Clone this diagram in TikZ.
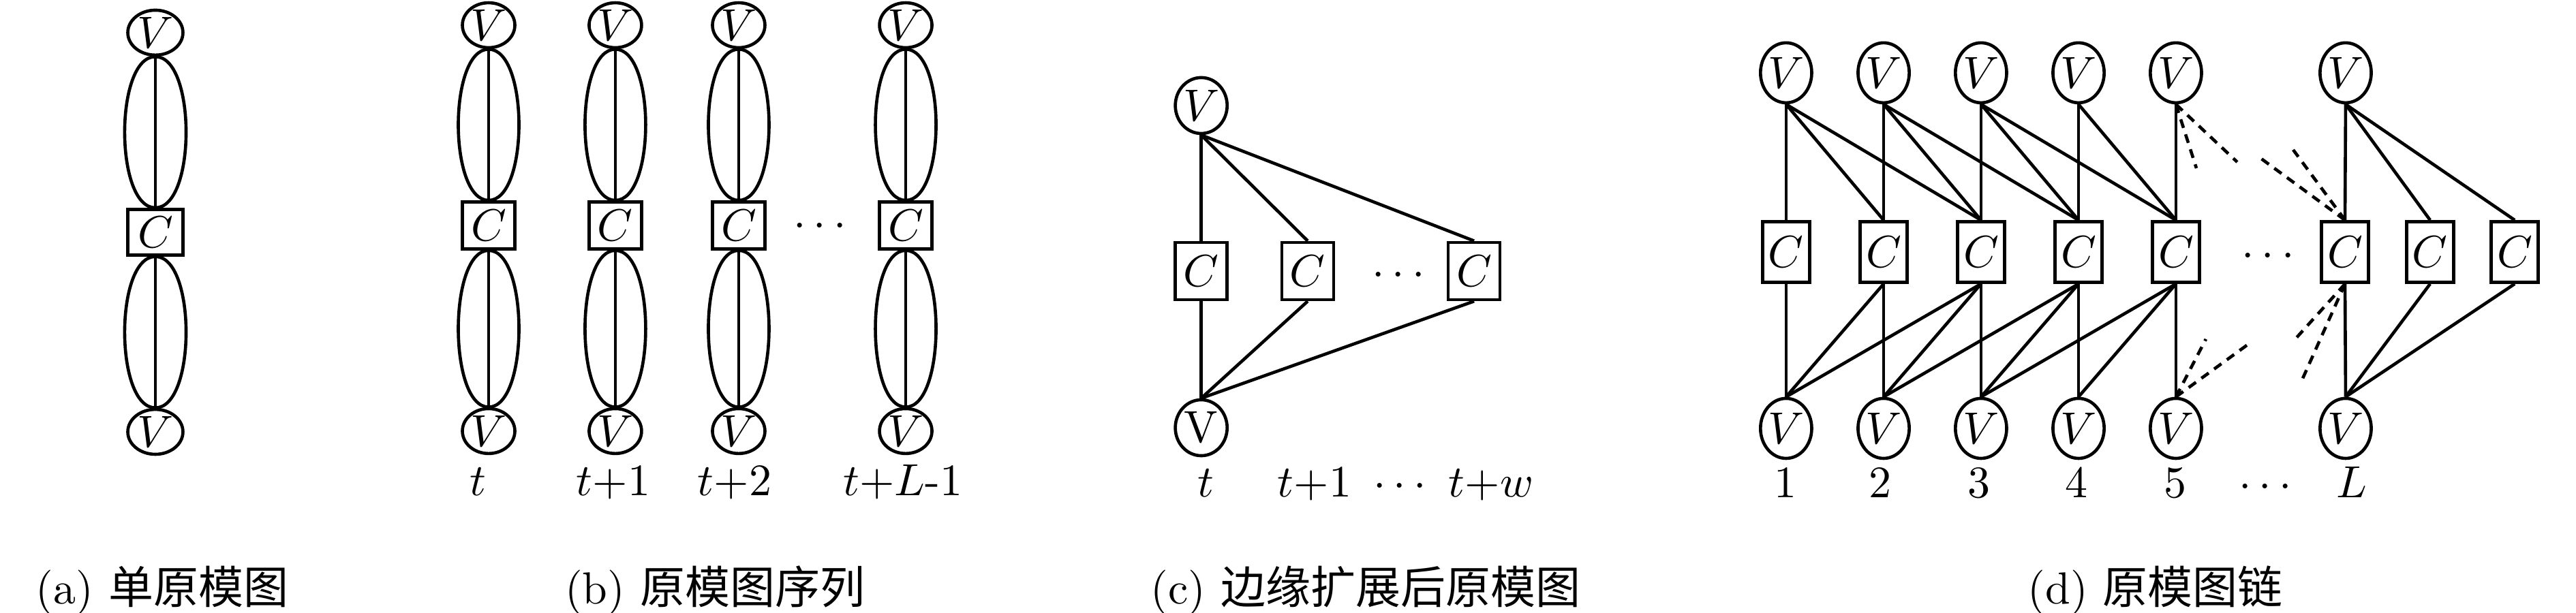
\documentclass[tikz,border=0pt]{standalone}
\usepackage{fontspec}
\newfontfamily\cjk{Noto Sans CJK SC}
\usetikzlibrary{shapes.geometric}

\begin{document}
\begin{tikzpicture}[line width=0.7pt,
    vnode/.style={draw, ellipse, inner sep=0pt, minimum width=\vw, minimum height=\vh},
    cnode/.style={draw, rectangle, inner sep=0pt, minimum width=\cw, minimum height=\ch},
    stub/.style={dash pattern=on 2pt off 1.5pt},
    lab/.style={anchor=base}]
    \useasboundingbox (0,0) rectangle (20.128,4.792);

    % (a) single protograph
    \def\vw{0.431cm} \def\vh{0.351cm} \def\cw{0.431cm} \def\ch{0.357cm}
    \def\bw{0.32cm}   % bulge of the double edges
    \node[vnode] (va) at (1.214, 4.537) {$V$};
    \node[cnode] (ca) at (1.214, 2.977) {$C$};
    \node[vnode] (wa) at (1.214, 1.416) {$V$};
    \foreach \s in {180, 0} {
        \draw (va.south) to[out=\s, in=\s, distance=\bw] (ca.north);
        \draw (ca.south) to[out=\s, in=\s, distance=\bw] (wa.north);
    }
    \draw (va.south) -- (ca.north);
    \draw (ca.south) -- (wa.north);
    \node[lab] (capa) at (1.267, 0.069) {(a) {\cjk 单原模图}};

    % (b) protograph sequence
    \def\vw{0.410cm} \def\vh{0.351cm} \def\cw{0.410cm} \def\ch{0.367cm}
    \def\bw{0.316cm}
    \foreach \n/\x in {1/3.818, 2/4.808, 3/5.772, 4/7.077} {
        \node[vnode] (vb\n) at (\x, 4.595) {$V$};
        \node[cnode] (cb\n) at (\x, 3.030) {$C$};
        \node[vnode] (wb\n) at (\x, 1.422) {$V$};
        \foreach \s in {180, 0} {
            \draw (vb\n.south) to[out=\s, in=\s, distance=\bw] (cb\n.north);
            \draw (cb\n.south) to[out=\s, in=\s, distance=\bw] (wb\n.north);
        }
        \draw (vb\n.south) -- (cb\n.north);
        \draw (cb\n.south) -- (wb\n.north);
    }
    \node[lab] (db) at (6.406, 2.944) {$\cdots$};
    \foreach \n/\x/\t in {1/3.733/$t$, 2/4.792/$t$+1, 3/5.740/$t$+2, 4/7.055/$t$+$L$-1} {
        \node[lab] (tb\n) at (\x, 0.916) {\t};
    }
    \node[lab] (capb) at (5.586, 0.069) {(b) {\cjk 原模图序列}};

    % (c) protograph after edge spreading
    \def\vw{0.405cm} \def\vh{0.437cm} \def\cw{0.405cm} \def\ch{0.447cm}
    \node[vnode] (vc) at (9.386, 3.967) {$V$};
    \node[vnode] (wc) at (9.386, 1.448) {V};
    \foreach \n/\x in {1/9.386, 2/10.218, 3/11.518} {
        \node[cnode] (cc\n) at (\x, 2.673) {$C$};
        \draw (vc.south) -- (cc\n.north);
        \draw (cc\n.south) -- (wc.north);
    }
    \node[lab] (dc) at (10.927, 2.556) {$\cdots$};
    \foreach \n/\x/\t in {1/9.420/$t$, 2/10.272/$t$+1, 3/10.937/$\cdots$, 4/11.651/$t$+$w$} {
        \node[lab] (tc\n) at (\x, 0.905) {\t};
    }
    \node[lab] (capc) at (10.671, 0.069) {(c) {\cjk 边缘扩展后原模图}};

    % (d) protograph chain
    \def\vw{0.367cm} \def\vh{0.469cm} \def\cw{0.367cm} \def\ch{0.474cm}
    \foreach \i/\x/\lx in {1/13.956/13.951, 2/14.718/14.691, 3/15.479/15.463, 4/16.241/16.225, 5/17.002/16.997} {
        \node[vnode] (vd\i) at (\x, 4.223) {$V$};
        \node[cnode] (cd\i) at (\x, 2.822) {$C$};
        \node[vnode] (wd\i) at (\x, 1.443) {$V$};
        \node[lab] (td\i) at (\lx, 0.900) {\i};
    }
    \node[vnode] (vdL) at (18.328, 4.223) {$V$};
    \node[cnode] (cdL) at (18.323, 2.822) {$C$};
    \node[cnode] (cdM) at (18.988, 2.822) {$C$};
    \node[cnode] (cdN) at (19.649, 2.822) {$C$};
    \node[vnode] (wdL) at (18.328, 1.443) {$V$};
    \node[lab] (dd) at (17.721, 2.705) {$\cdots$};
    \node[lab] (tdd) at (17.700, 0.900) {$\cdots$};
    \node[lab] (tdL) at (18.376, 0.900) {$L$};

    % edges, top row
    \foreach \i/\j in {1/1, 1/2, 1/3, 2/2, 2/3, 2/4, 3/3, 3/4, 3/5, 4/4, 4/5, 5/5} {
        \draw (vd\i.south) -- (cd\j.north);
    }
    % edges, bottom row
    \foreach \j/\i in {1/1, 2/1, 2/2, 3/1, 3/2, 3/3, 4/2, 4/3, 4/4, 5/3, 5/4, 5/5} {
        \draw (cd\j.south) -- (wd\i.north);
    }
    \foreach \c in {L, M, N} {
        \draw (vdL.south) -- (cd\c.north);
        \draw (cd\c.south) -- (wdL.north);
    }

    % cut edges
    \coordinate (sa) at (17.162, 3.477);
    \coordinate (sb) at (17.481, 3.525);
    \coordinate (sc) at (17.918, 3.621);
    \coordinate (sd) at (17.668, 3.552);
    \coordinate (se) at (17.236, 2.141);
    \coordinate (sf) at (17.556, 2.093);
    \coordinate (sg) at (17.934, 2.141);
    \coordinate (sh) at (17.982, 1.810);
    \draw[stub] (vd5.south) -- (sa);
    \draw[stub] (vd5.south) -- (sb);
    \draw[stub] (cdL.north) -- (sc);
    \draw[stub] (cdL.north) -- (sd);
    \draw[stub] (wd5.north) -- (se);
    \draw[stub] (wd5.north) -- (sf);
    \draw[stub] (cdL.south) -- (sg);
    \draw[stub] (cdL.south) -- (sh);
    \node[lab] (capd) at (16.842, 0.069) {(d) {\cjk 原模图链}};
\end{tikzpicture}
\end{document}
